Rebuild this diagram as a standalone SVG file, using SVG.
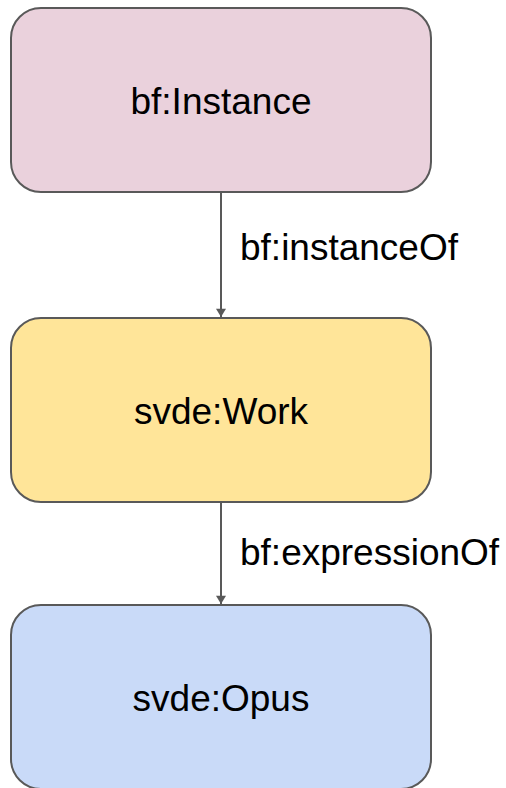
<svg xmlns="http://www.w3.org/2000/svg" width="506" height="788" viewBox="0 0 506 788">
<style>
.box{stroke:#595959;stroke-width:2}
.t{font-family:"Liberation Sans",Arial,sans-serif;font-size:37px;fill:#000}
.c{text-anchor:middle}
.edge{stroke:#595959;stroke-width:2;fill:none}
</style>
<defs>
<marker id="ah" viewBox="0 0 10 12" refX="10" refY="6" markerWidth="12" markerHeight="10" markerUnits="userSpaceOnUse" orient="auto">
<path d="M0,0 L10,6 L0,12 Z" fill="#595959"/>
</marker>
</defs>
<rect width="506" height="788" fill="#fff"/>
<g id="connectors">
<line class="edge" x1="221" y1="192" x2="221" y2="317" marker-end="url(#ah)"/>
<text class="t" x="240" y="260">bf:instanceOf</text>
<line class="edge" x1="221" y1="502" x2="221" y2="604" marker-end="url(#ah)"/>
<text class="t" x="240" y="565">bf:expressionOf</text>
</g>
<g id="instance">
<rect class="box" x="11" y="8" width="420" height="184" rx="30" fill="#ead1dc"/>
<text class="t c" x="221" y="114">bf:Instance</text>
</g>
<g id="work">
<rect class="box" x="11" y="318" width="420" height="184" rx="30" fill="#ffe599"/>
<text class="t c" x="221" y="424">svde:Work</text>
</g>
<g id="opus">
<rect class="box" x="11" y="605" width="420" height="184" rx="30" fill="#c9daf8"/>
<text class="t c" x="221" y="711">svde:Opus</text>
</g>
</svg>
